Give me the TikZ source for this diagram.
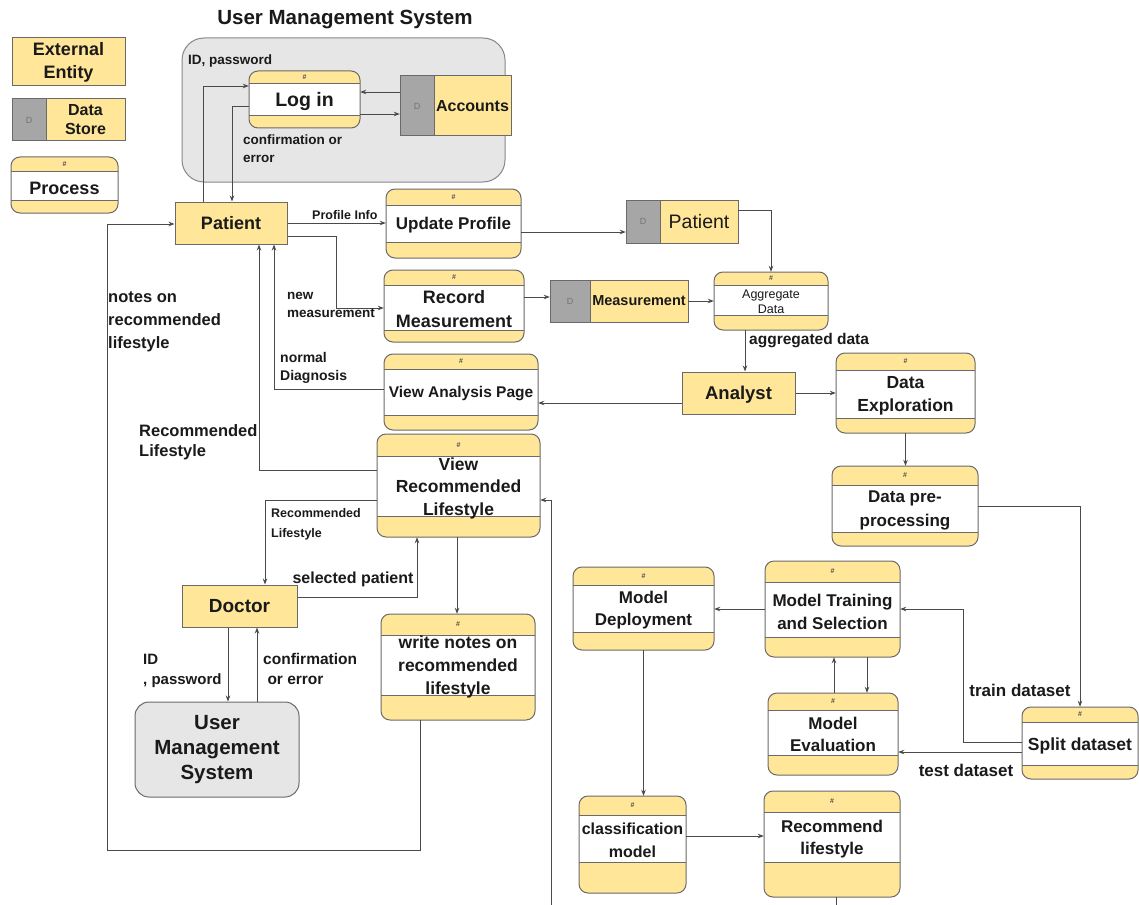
\documentclass[tikz,border=0pt]{standalone}
\usepackage{fontspec}
\setmainfont{Liberation Sans}
\usetikzlibrary{arrows.meta,calc}
\definecolor{ylw}{HTML}{FFE699}
\definecolor{stg}{HTML}{A6A6A6}
\definecolor{grp}{HTML}{E6E6E6}
\definecolor{bdr}{HTML}{6A6A6A}
\definecolor{lnc}{HTML}{4A4A4A}
\definecolor{txc}{HTML}{1A1A1A}
\newcommand{\fsz}[2]{\fontsize{#1}{#2}\selectfont}
\tikzset{
  bline/.style={draw=bdr, line width=1pt},
  arr/.style={draw=lnc, line width=0.9pt, -{Stealth[length=6pt,width=4.5pt]}},
  entity/.style={draw=bdr, line width=1pt, fill=ylw, inner sep=0, text=txc, font=\bfseries, align=center},
  lbl/.style={inner sep=0, text=txc, align=left, font=\bfseries},
  hashlbl/.style={inner sep=0, text=black!70, font=\fsz{7}{8}\bfseries},
}
% name, x1, y1, x2, y2, header bottom, white bottom, font, text
\newcommand{\proc}[9]{%
  \fill[ylw, rounded corners=9pt] (#2,#3) rectangle (#4,#5);
  \fill[white] (#2,#6) rectangle (#4,#7);
  \draw[bline] (#2,#6) -- (#4,#6) (#2,#7) -- (#4,#7);
  \draw[bline, rounded corners=9pt] (#2,#3) rectangle (#4,#5);
  \node[hashlbl] at ({(#2+#4)/2},{(#3+#6)/2}) {\#};
  \node[inner sep=0, minimum width={#4-#2}, minimum height={#5-#3}] (#1) at ({(#2+#4)/2},{(#3+#5)/2}) {};
  \node[inner sep=0, text=txc, align=center, font={\bfseries#8}, yshift=-2pt] at ({(#2+#4)/2},{(#6+#7)/2}) {#9};
}
% name, x1, y1, x2, y2, gray right edge, font, text
\newcommand{\store}[8]{%
  \fill[ylw] (#2,#3) rectangle (#4,#5);
  \fill[stg] (#2,#3) rectangle (#6,#5);
  \draw[bline] (#2,#3) rectangle (#4,#5) (#6,#3) -- (#6,#5);
  \node[inner sep=0, text=black!55, font=\fsz{9}{10}] at ({(#2+#6)/2},{(#3+#5)/2}) {D};
  \node[inner sep=0, minimum width={#4-#2}, minimum height={#5-#3}] (#1) at ({(#2+#4)/2},{(#3+#5)/2}) {};
  \node[inner sep=0, text=txc, align=center, font={#7}] at ({(#6+#4)/2},{(#3+#5)/2}) {#8};
}
\begin{document}
\begin{tikzpicture}[x=1pt, y=-1pt]
\useasboundingbox (0,0) rectangle (1139,904);
\clip (0,0) rectangle (1139,904);
\fill[white] (0,0) rectangle (1139,904);

% ---------- legend ----------
\node[entity, minimum width=113, minimum height=48, font=\bfseries\fsz{18}{23}] (legee) at (68.5,62) {External\\Entity};
\store{legds}{12}{99}{125}{141}{46}{\bfseries\fsz{16}{19}}{Data\\Store}
\proc{legp}{11}{157}{118}{213}{172}{200}{\fsz{18}{22}}{Process}

% ---------- user management group ----------
\node[draw=bdr!80, line width=1pt, fill=grp, rounded corners=22pt, inner sep=0, minimum width=323, minimum height=144] (umsg) at (343.5,110) {};
\node[inner sep=0, text=txc, font=\bfseries\fsz{20.5}{24}] (umstitle) at (345,20) {User Management System};
\proc{login}{249}{71}{360}{128}{84}{116}{\fsz{19.5}{23}}{Log in}
\store{acc}{400}{76}{511}{136}{434}{\bfseries\fsz{16}{19}}{Accounts}

% ---------- entities ----------
\node[entity, minimum width=112, minimum height=42, font=\bfseries\fsz{18}{21}, text depth=1pt] (pat) at (231,223) {Patient};
\node[entity, minimum width=113, minimum height=42, font=\bfseries\fsz{18.5}{21}, text depth=1pt] (ana) at (738.5,393) {Analyst};
\node[entity, minimum width=115, minimum height=42, font=\bfseries\fsz{19}{21}] (doc) at (239.5,606) {Doctor};
\node[draw=bdr, line width=1pt, fill=grp, rounded corners=14pt, inner sep=0, minimum width=164, minimum height=95, align=center, text=txc, font=\bfseries\fsz{20.5}{25}] (ums) at (217,749.5) {User\\Management\\System};

% ---------- processes ----------
\proc{upd}{386}{189}{521}{258}{205}{242}{\fsz{17}{22}}{Update Profile}
\proc{rec}{384}{270}{524}{342}{285}{330}{\fsz{18}{24}}{Record\\Measurement}
\proc{agg}{714}{272}{828}{330}{285}{315}{\fsz{12.5}{14.5}\mdseries}{Aggregate\\Data}
\proc{vap}{384}{354}{538}{430}{369}{415}{\fsz{15.5}{19}}{View Analysis Page}
\proc{dex}{836}{353}{975}{433}{370}{418}{\fsz{17.5}{23}}{Data\\Exploration}
\proc{dpp}{832}{466}{978}{546}{485}{532}{\fsz{17}{24}}{Data pre-\\processing}
\proc{vrl}{377}{434}{540}{537}{456}{516}{\fsz{17.5}{22.5}}{View\\Recommended\\Lifestyle}
\proc{wn}{381}{614}{535}{720}{635}{695}{\fsz{17.5}{23}}{write notes on\\recommended\\lifestyle}
\proc{md}{573}{567}{714}{650}{585}{632}{\fsz{17}{22}}{Model\\Deployment}
\proc{mts}{765}{561}{900}{657}{582}{637}{\fsz{17}{23}}{Model Training\\and Selection}
\proc{me}{768}{693}{898}{775}{710}{755}{\fsz{17}{22}}{Model\\Evaluation}
\proc{spl}{1022}{707}{1138}{779}{722}{765}{\fsz{17.5}{21}}{Split dataset}
\proc{cm}{579}{796}{686}{893}{815}{862}{\fsz{16}{23}}{classification\\model}
\proc{rl}{764}{791}{900}{897}{812}{862}{\fsz{17}{22}}{Recommend\\lifestyle}

% ---------- stores ----------
\store{pstore}{626}{200}{738}{243}{660}{\fsz{19.5}{22}}{Patient}
\store{mstore}{550}{280}{688}{322}{590}{\bfseries\fsz{14.5}{17}}{Measurement}

% ---------- connectors ----------
\coordinate (c1) at ([xshift=-28]pat.north);
\draw[arr] (c1) |- ([yshift=13.5]login.west);
\draw[arr] ([yshift=-6.5]login.west) -| ([xshift=1]pat.north);
\coordinate (c3) at ([yshift=14]acc.west);
\draw[arr] (c3) -- (c3 -| login.east);
\coordinate (c4) at ([yshift=-14.5]login.east);
\draw[arr] (c4) -- (c4 -| acc.west);
\draw[arr] (pat.east) -- (pat.east -| upd.west);
\draw[arr] ([yshift=-13]pat.east) -- ++(49,0) |- ([yshift=-2]rec.west);
\draw[arr] ([yshift=3]vap.west) -| ([xshift=43]pat.south);
\draw[arr] ([yshift=15.5]vrl.west) -| ([xshift=28]pat.south);
\coordinate (c9) at ([yshift=-8.5]upd.east);
\draw[arr] (c9) -- (c9 -| pstore.west);
\draw[arr] ([yshift=11.5]pstore.east) -| (agg.north);
\coordinate (c11) at ([yshift=9]rec.east);
\draw[arr] (c11) -- (c11 -| mstore.west);
\draw[arr] (mstore.east) -- (mstore.east -| agg.west);
\coordinate (c13) at ([xshift=-26]agg.south);
\draw[arr] (c13) -- (c13 |- ana.north);
\coordinate (c14) at ([yshift=-10]ana.west);
\draw[arr] (c14) -- (c14 -| vap.east);
\draw[arr] (ana.east) -- (ana.east -| dex.west);
\draw[arr] (dex.south) -- (dex.south |- dpp.north);
\draw[arr] (dpp.east) -| (spl.north);
\draw[arr] ([yshift=1]spl.west) -- ++(-58,0) |- (mts.east);
\coordinate (c19) at ([yshift=-9]spl.west);
\draw[arr] (c19) -- (c19 -| me.east);
\coordinate (c20) at ([xshift=1]me.north);
\draw[arr] (c20) -- (c20 |- mts.south);
\coordinate (c21) at ([xshift=34.5]mts.south);
\draw[arr] (c21) -- (c21 |- me.north);
\draw[arr] (mts.west) -- (mts.west -| md.east);
\draw[arr] (md.south) -- (md.south |- cm.north);
\coordinate (c24) at ([yshift=8.5]cm.east);
\draw[arr] (c24) -- (c24 -| rl.west);
\coordinate (rlturn) at (551,935);
\draw[arr] ([xshift=4]rl.south) |- (rlturn) |- ([yshift=-14.5]vrl.east);
\draw[arr] ([yshift=-14.5]vrl.west) -| ([xshift=25.5]doc.north);
\draw[arr] ([yshift=9]doc.east) -| ([xshift=-41.5]vrl.south);
\coordinate (c28) at ([xshift=-1.5]vrl.south);
\draw[arr] (c28) -- (c28 |- wn.north);
\coordinate (c29) at ([xshift=-11.5]doc.south);
\draw[arr] (c29) -- (c29 |- ums.north);
\coordinate (c30) at ([xshift=40]ums.north);
\draw[arr] (c30) -- (c30 |- doc.south);
\coordinate (notesturn) at (107,850);
\draw[arr] ([xshift=-38]wn.south) |- (notesturn) |- ([yshift=-1]pat.west);

% ---------- labels ----------
\node[lbl, anchor=west, font=\bfseries\fsz{13.5}{16}] (lblid) at (188,61) {ID, password};
\node[lbl, anchor=north west, font=\bfseries\fsz{13.5}{18}] (lblconf) at (243,135) {confirmation or\\error};
\node[lbl, anchor=south west, font=\bfseries\fsz{12.5}{15}] (lblprof) at (312,220) {Profile Info};
\node[lbl, anchor=north west, font=\bfseries\fsz{13.5}{18}] (lblnew) at (287,292) {new\\measurement};
\node[lbl, anchor=north west, font=\bfseries\fsz{14}{18}] (lblnorm) at (280,352) {normal\\Diagnosis};
\node[lbl, anchor=north west, font=\bfseries\fsz{16.5}{20.5}] (lblrec) at (139,424) {Recommended\\Lifestyle};
\node[lbl, anchor=north west, font=\bfseries\fsz{16.5}{23}] (lblnotes) at (108,292) {notes on\\recommended\\lifestyle};
\node[lbl, anchor=north west, font=\bfseries\fsz{12.5}{20}] (lblrecs) at (271,508) {Recommended\\Lifestyle};
\node[lbl, font=\bfseries\fsz{16}{19}] (lblsel) at (353,579) {selected patient};
\node[lbl, anchor=north west, font=\bfseries\fsz{15}{20}] (lblidd) at (143,654) {ID\\, password};
\node[lbl, anchor=north west, font=\bfseries\fsz{15.5}{20}] (lblconfd) at (263,653) {confirmation\\\ or error};
\node[lbl, anchor=west, font=\bfseries\fsz{15.5}{18}] (lblagg) at (749,341) {aggregated data};
\node[lbl, font=\bfseries\fsz{17}{20}] (lbltrain) at (1020,690) {train dataset};
\node[lbl, font=\bfseries\fsz{17}{20}] (lbltest) at (966,770) {test dataset};
\end{tikzpicture}
\end{document}
